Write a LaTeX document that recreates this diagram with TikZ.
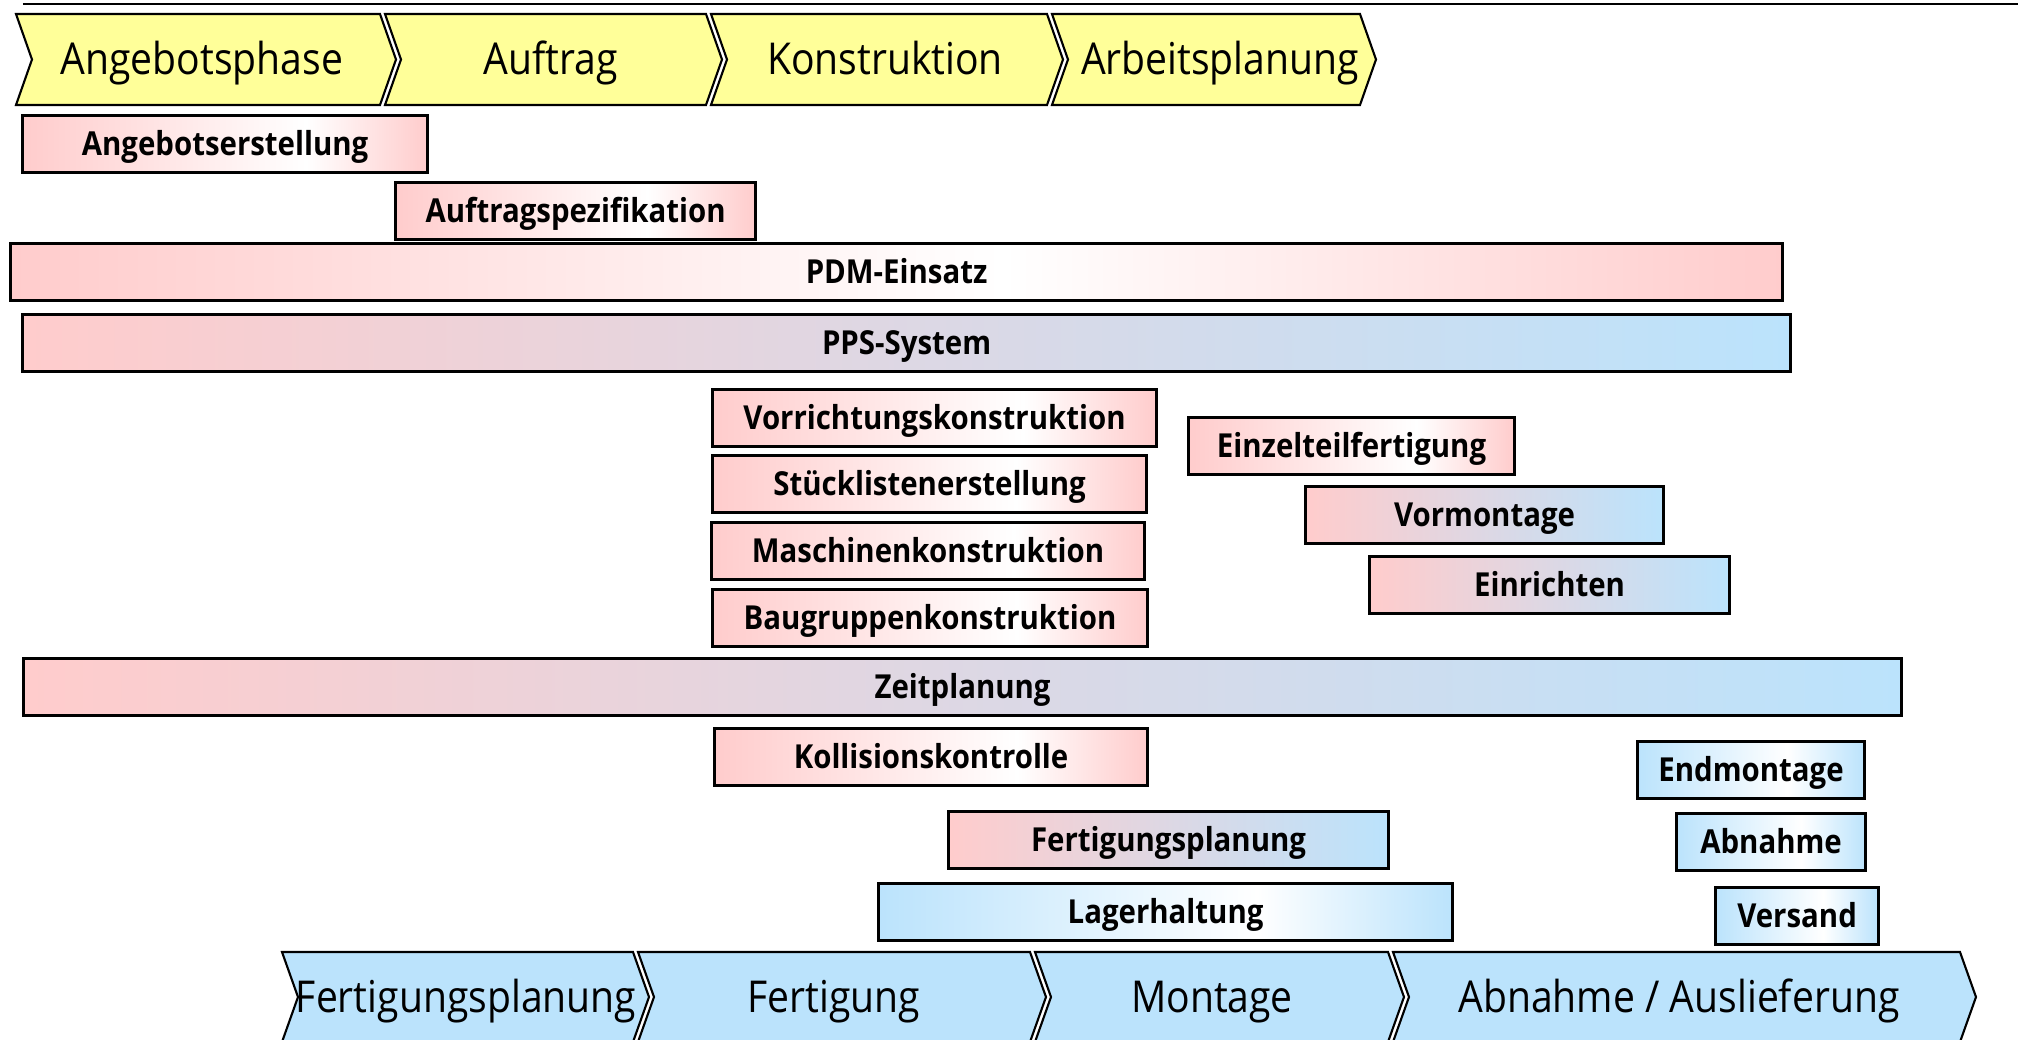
\documentclass[tikz,border=0pt]{standalone}
\usepackage{fontspec}
\newfontfamily\phasefont{Open Sans}[FakeStretch=0.89]
\newfontfamily\taskfont{Open Sans}[FakeStretch=0.89]
\definecolor{phaseyellow}{RGB}{255,255,153}
\definecolor{barpink}{RGB}{255,204,204}
\definecolor{barblue}{RGB}{187,227,252}
\pgfdeclarehorizontalshading{pinkfade}{100bp}{color(0bp)=(barpink); color(25bp)=(barpink); color(60bp)=(white); color(75bp)=(barpink); color(100bp)=(barpink)}
\pgfdeclarehorizontalshading{pinkwide}{100bp}{color(0bp)=(barpink); color(25bp)=(barpink); color(53bp)=(white); color(75bp)=(barpink); color(100bp)=(barpink)}
\pgfdeclarehorizontalshading{bluefade}{100bp}{color(0bp)=(barblue); color(25bp)=(barblue); color(58bp)=(white); color(75bp)=(barblue); color(100bp)=(barblue)}

\begin{document}
\begin{tikzpicture}[
    phase/.style={draw=black, line width=0.6pt},
    phasetext/.style={font=\phasefont\fontsize{12.5}{15}\selectfont, inner sep=0pt, anchor=base},
    task/.style={draw=black, line width=0.9pt, anchor=north west, minimum height=0.57cm,
        inner sep=0pt, text height=6.7pt, text depth=0pt,
        font=\taskfont\bfseries\fontsize{9.4}{11}\selectfont},
    pinkbar/.style={task, shade, shading=pinkfade},
    bluebar/.style={task, shade, shading=bluefade},
    mixbar/.style={task, left color=barpink, right color=barblue}
]
    \useasboundingbox (0,0) rectangle (20.28,-10.40);
    \draw[line width=0.8pt] (0.23,-0.04) -- (20.18,-0.04);

    % phases on top
    \draw[phase, fill=phaseyellow] (0.16,-0.14) -- (3.80,-0.14) -- (3.96,-0.595) -- (3.80,-1.05) -- (0.16,-1.05) -- (0.32,-0.595) -- cycle;
    \draw[phase, fill=phaseyellow] (3.85,-0.14) -- (7.06,-0.14) -- (7.22,-0.595) -- (7.06,-1.05) -- (3.85,-1.05) -- (4.01,-0.595) -- cycle;
    \draw[phase, fill=phaseyellow] (7.11,-0.14) -- (10.47,-0.14) -- (10.63,-0.595) -- (10.47,-1.05) -- (7.11,-1.05) -- (7.27,-0.595) -- cycle;
    \draw[phase, fill=phaseyellow] (10.52,-0.14) -- (13.60,-0.14) -- (13.76,-0.595) -- (13.60,-1.05) -- (10.52,-1.05) -- (10.68,-0.595) -- cycle;
    \node[phasetext] (angebotsphase) at (2.02,-0.75) {Angebotsphase};
    \node[phasetext] (auftrag) at (5.51,-0.75) {Auftrag};
    \node[phasetext] (konstruktion) at (8.85,-0.75) {Konstruktion};
    \node[phasetext] (arbeitsplanung) at (12.20,-0.75) {Arbeitsplanung};

    % tasks
    \node[pinkbar, minimum width=4.05cm] (angebot) at (0.21,-1.14) {Angebotserstellung};
    \node[pinkbar, minimum width=3.60cm] (spezifikation) at (3.94,-1.81) {Auftragspezifikation};
    \node[task, shade, shading=pinkwide, minimum width=17.72cm] (pdm) at (0.09,-2.42) {PDM-Einsatz};
    \node[mixbar, minimum width=17.68cm] (pps) at (0.21,-3.13) {PPS-System};
    \node[pinkbar, minimum width=4.44cm] (vorrichtung) at (7.11,-3.88) {Vorrichtungskonstruktion};
    \node[pinkbar, minimum width=4.34cm] (stueckliste) at (7.11,-4.54) {Stücklistenerstellung};
    \node[pinkbar, minimum width=4.33cm] (maschine) at (7.10,-5.21) {Maschinenkonstruktion};
    \node[pinkbar, minimum width=4.35cm] (baugruppe) at (7.11,-5.88) {Baugruppenkonstruktion};
    \node[pinkbar, minimum width=3.26cm] (einzelteil) at (11.87,-4.16) {Einzelteilfertigung};
    \node[mixbar, minimum width=3.58cm] (vormontage) at (13.04,-4.85) {Vormontage};
    \node[mixbar, minimum width=3.60cm] (einrichten) at (13.68,-5.55) {Einrichten};
    \node[mixbar, minimum width=18.78cm] (zeitplanung) at (0.22,-6.57) {Zeitplanung};
    \node[pinkbar, minimum width=4.33cm] (kollision) at (7.13,-7.27) {Kollisionskontrolle};
    \node[bluebar, minimum width=2.27cm] (endmontage) at (16.36,-7.40) {Endmontage};
    \node[mixbar, minimum width=4.40cm] (fplanung) at (9.47,-8.10) {Fertigungsplanung};
    \node[bluebar, minimum width=1.89cm] (abnahme) at (16.75,-8.12) {Abnahme};
    \node[bluebar, minimum width=5.74cm] (lager) at (8.77,-8.82) {Lagerhaltung};
    \node[bluebar, minimum width=1.63cm] (versand) at (17.14,-8.86) {Versand};

    % phases at the bottom
    \draw[phase, fill=barblue] (2.82,-9.52) -- (6.33,-9.52) -- (6.49,-9.97) -- (6.33,-10.42) -- (2.82,-10.42) -- (2.98,-9.97) -- cycle;
    \draw[phase, fill=barblue] (6.38,-9.52) -- (10.30,-9.52) -- (10.46,-9.97) -- (10.30,-10.42) -- (6.38,-10.42) -- (6.54,-9.97) -- cycle;
    \draw[phase, fill=barblue] (10.35,-9.52) -- (13.88,-9.52) -- (14.04,-9.97) -- (13.88,-10.42) -- (10.35,-10.42) -- (10.51,-9.97) -- cycle;
    \draw[phase, fill=barblue] (13.93,-9.52) -- (19.60,-9.52) -- (19.76,-9.97) -- (19.60,-10.42) -- (13.93,-10.42) -- (14.09,-9.97) -- cycle;
    \node[phasetext] (fertplanung) at (4.66,-10.13) {Fertigungsplanung};
    \node[phasetext] (fertigung) at (8.34,-10.13) {Fertigung};
    \node[phasetext] (montage) at (12.12,-10.13) {Montage};
    \node[phasetext] (auslieferung) at (16.79,-10.13) {Abnahme / Auslieferung};
\end{tikzpicture}
\end{document}
